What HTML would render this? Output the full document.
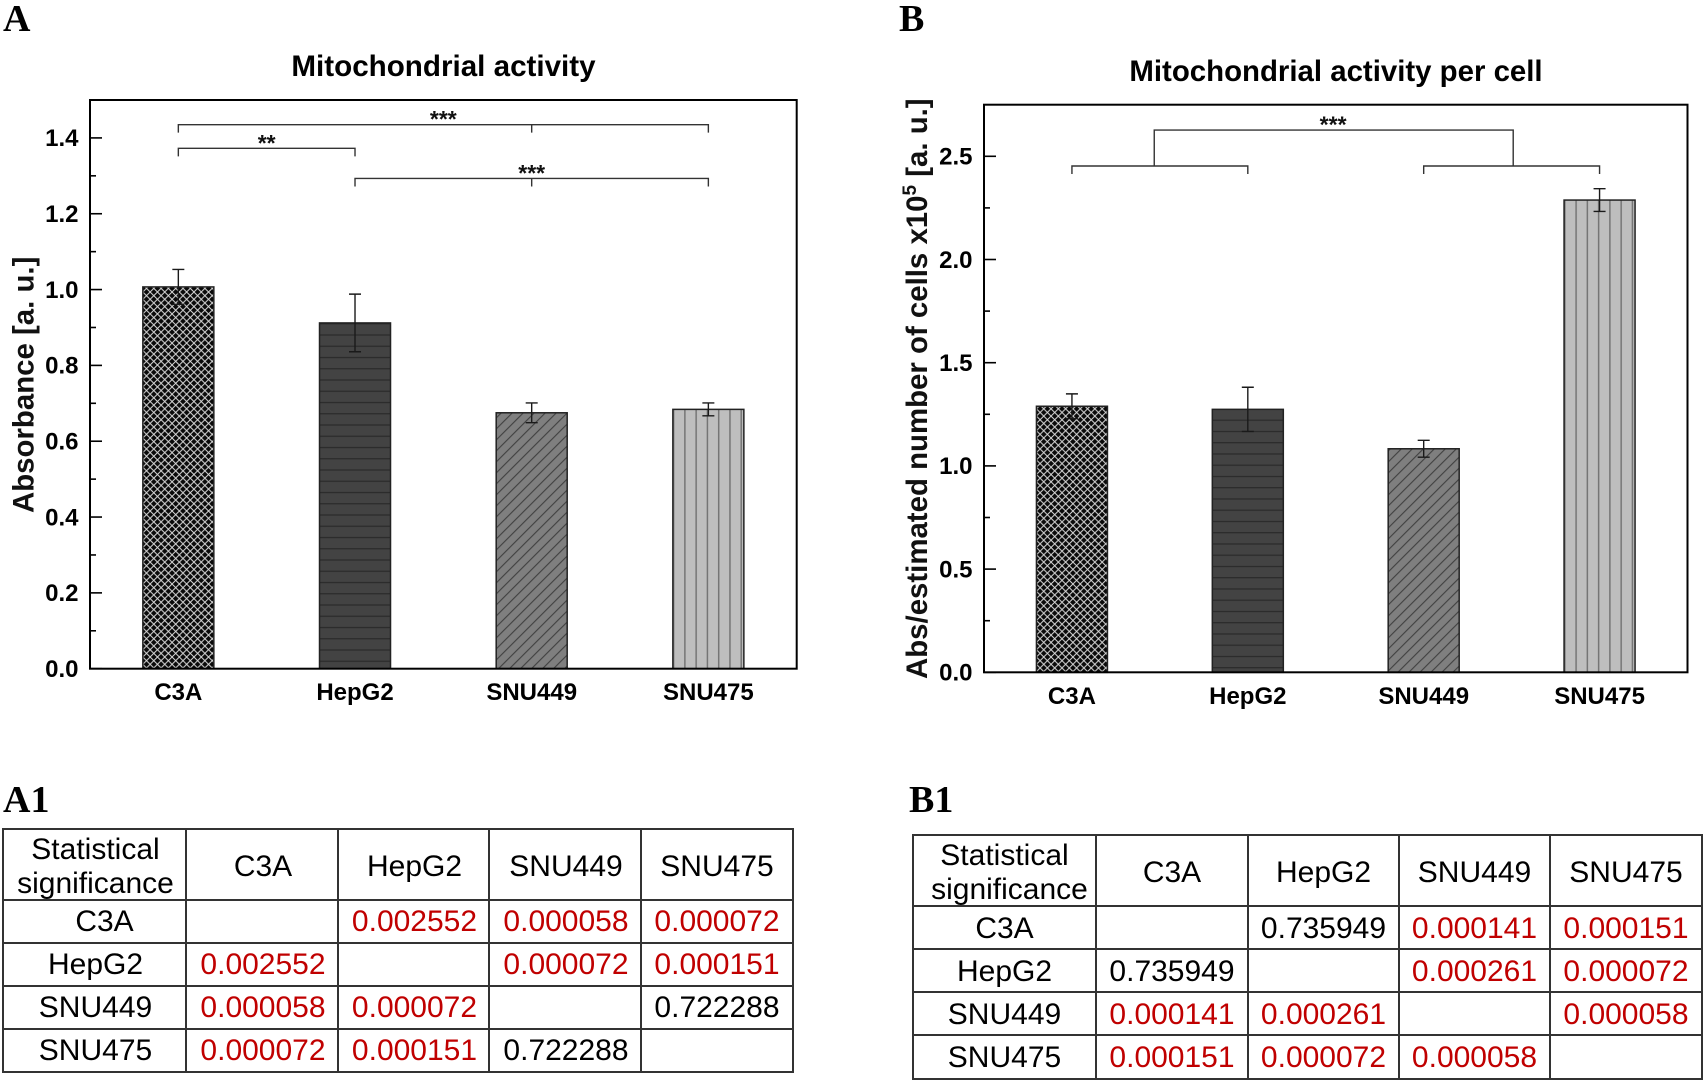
<!DOCTYPE html>
<html lang="en">
<head>
<meta charset="utf-8">
<title>Mitochondrial activity</title>
<style>
html,body{margin:0;padding:0;background:#fff;}
body{width:1705px;height:1085px;overflow:hidden;position:relative;font-family:"Liberation Sans",sans-serif;}
#figure{position:absolute;left:0;top:0;}
.letter{font-family:"Liberation Serif",serif;font-weight:bold;font-size:38px;fill:#000;}
.title{font-weight:bold;font-size:29.6px;fill:#000;text-anchor:middle;}
.ytitle{font-weight:bold;font-size:29.4px;fill:#111;}
.tick{font-weight:bold;font-size:24px;fill:#000;text-anchor:end;}
.cat{font-weight:bold;font-size:24px;fill:#000;text-anchor:middle;}
.stars{font-weight:bold;font-size:23px;fill:#111;text-anchor:middle;}
table.sig{position:absolute;border-collapse:collapse;table-layout:fixed;font-size:30px;line-height:34.3px;color:#000;}
table.sig td{border:2px solid #333;padding:0;text-align:center;vertical-align:middle;white-space:nowrap;}
table.sig td.p{color:#c00000;}
table.sig td.n{color:#000;}
table.sig td.corner{padding:0;}
.corner-text{position:relative;top:2.5px;}
#table-a td{padding-left:2px;padding-top:2px;}
#table-a td:last-child{padding-left:0;}
#table-a td.corner{padding-top:0;}
#table-a td.h{padding-top:6px;}
#table-b td{padding-top:4px;}
#table-b td.corner{padding-top:0;}
#table-b td.h{padding-top:5px;}
</style>
</head>
<body>
<svg id="figure" width="1705" height="1085" viewBox="0 0 1705 1085" xmlns="http://www.w3.org/2000/svg" font-family="'Liberation Sans',sans-serif">
  <defs id="hatches"></defs>
  <text class="letter" x="3" y="31">A</text>
  <text class="letter" x="899" y="31">B</text>
  <text class="letter" x="3" y="812">A1</text>
  <text class="letter" x="909" y="812">B1</text>

  <g id="chart-a">
    <text class="title" x="443.5" y="76">Mitochondrial activity</text>
    <text class="ytitle" x="33.6" y="513" transform="rotate(-90 33.6 513)">Absorbance [a. u.]</text>
  </g>
  <g id="chart-b">
    <text class="title" x="1336" y="81" style="font-size:29.4px">Mitochondrial activity per cell</text>
    <text class="ytitle" x="927" y="679" transform="rotate(-90 927 679)">Abs/estimated number of cells x10<tspan font-size="19" dy="-11">5</tspan><tspan dy="11"> [a. u.]</tspan></text>
  </g>
</svg>

<table id="table-a" class="sig" style="left:2px;top:828px;width:790px;">
  <colgroup><col style="width:183px"><col style="width:152px"><col style="width:151px"><col style="width:152px"><col style="width:152px"></colgroup>
  <tr style="height:69px"><td class="corner"><div class="corner-text">Statistical<br>significance</div></td><td class="h">C3A</td><td class="h">HepG2</td><td class="h">SNU449</td><td class="h">SNU475</td></tr>
  <tr style="height:43px"><td style="padding-left:20px">C3A</td><td></td><td class="p">0.002552</td><td class="p">0.000058</td><td class="p">0.000072</td></tr>
  <tr style="height:43px"><td>HepG2</td><td class="p">0.002552</td><td></td><td class="p">0.000072</td><td class="p">0.000151</td></tr>
  <tr style="height:43px"><td>SNU449</td><td class="p">0.000058</td><td class="p">0.000072</td><td></td><td class="n">0.722288</td></tr>
  <tr style="height:43px"><td>SNU475</td><td class="p">0.000072</td><td class="p">0.000151</td><td class="n">0.722288</td><td></td></tr>
</table>

<table id="table-b" class="sig" style="left:912px;top:834px;width:789px;">
  <colgroup><col style="width:183px"><col style="width:152px"><col style="width:151px"><col style="width:151px"><col style="width:152px"></colgroup>
  <tr style="height:70px"><td class="corner"><div class="corner-text">Statistical<br><span style="position:relative;left:5px">significance</span></div></td><td class="h">C3A</td><td class="h">HepG2</td><td class="h">SNU449</td><td class="h">SNU475</td></tr>
  <tr style="height:43px"><td>C3A</td><td></td><td class="n">0.735949</td><td class="p">0.000141</td><td class="p">0.000151</td></tr>
  <tr style="height:43px"><td>HepG2</td><td class="n">0.735949</td><td></td><td class="p">0.000261</td><td class="p">0.000072</td></tr>
  <tr style="height:43px"><td>SNU449</td><td class="p">0.000141</td><td class="p">0.000261</td><td></td><td class="p">0.000058</td></tr>
  <tr style="height:44px"><td>SNU475</td><td class="p">0.000151</td><td class="p">0.000072</td><td class="p">0.000058</td><td></td></tr>
</table>

<script>
var categories = ["C3A", "HepG2", "SNU449", "SNU475"];

var valuesA = [1.007, 0.912, 0.675, 0.684];
var errorsA = [0.046, 0.076, 0.026, 0.017];
var majorTicksA = [0.0, 0.2, 0.4, 0.6, 0.8, 1.0, 1.2, 1.4];
var minorTicksA = [0.1, 0.3, 0.5, 0.7, 0.9, 1.1, 1.3];
var tickLabelsA = ["0.0", "0.2", "0.4", "0.6", "0.8", "1.0", "1.2", "1.4"];

var valuesB = [1.289, 1.274, 1.083, 2.288];
var errorsB = [0.060, 0.107, 0.041, 0.055];
var majorTicksB = [0.0, 0.5, 1.0, 1.5, 2.0, 2.5];
var minorTicksB = [0.25, 0.75, 1.25, 1.75, 2.25];
var tickLabelsB = ["0.0", "0.5", "1.0", "1.5", "2.0", "2.5"];

var bracketFromA = [0, 0, 1];
var bracketToA = [3, 1, 3];
var bracketLevelA = [1.435, 1.3725, 1.293];
var bracketMidA = [2, null, 2];
var bracketStarPosA = [1.5, 0.5, 2];
var bracketStarsA = ["***", "**", "***"];

var bracketFromB = [0, 2];
var bracketToB = [1, 3];
var bracketLevelB = [2.453, 2.453];
var joinFromB = 0.468;
var joinToB = 2.509;
var joinLevelB = 2.627;
var joinStarPosB = 1.485;
var joinStarsB = "***";

var NS = "http://www.w3.org/2000/svg";
var defsEl = document.getElementById("hatches");

function make(tag, attrs, parent) {
  var el = document.createElementNS(NS, tag);
  for (var k in attrs) { el.setAttribute(k, attrs[k]); }
  parent.appendChild(el);
  return el;
}

function buildHatches(prefix, xScale, horizontalOffset) {
  var bw = 71;
  var p, bx;

  bx = xScale(0) - bw / 2;
  p = make("pattern", {id: prefix + "-cross", patternUnits: "userSpaceOnUse", width: 7.3, height: 7.3, patternTransform: "translate(" + bx + ",0)"}, defsEl);
  make("rect", {x: 0, y: 0, width: 7.3, height: 7.3, fill: "#0a0a0a"}, p);
  make("path", {d: "M0,0L7.3,7.3M7.3,0L0,7.3", stroke: "#d8d8d8", "stroke-width": 1, fill: "none"}, p);

  p = make("pattern", {id: prefix + "-horiz", patternUnits: "userSpaceOnUse", width: 20, height: 11.25, patternTransform: "translate(0," + horizontalOffset + ")"}, defsEl);
  make("rect", {x: 0, y: 0, width: 20, height: 11.25, fill: "#434343"}, p);
  make("line", {x1: 0, y1: 0.6, x2: 20, y2: 0.6, stroke: "#2a2a2a", "stroke-width": 1.2}, p);

  bx = xScale(2) - bw / 2;
  p = make("pattern", {id: prefix + "-diag", patternUnits: "userSpaceOnUse", width: 11, height: 11, patternTransform: "translate(" + bx + ",0)"}, defsEl);
  make("rect", {x: 0, y: 0, width: 11, height: 11, fill: "#7f7f7f"}, p);
  make("path", {d: "M-1,12L12,-1M-1,1L1,-1M10,12L12,10", stroke: "#3f3f3f", "stroke-width": 1.1, fill: "none"}, p);

  bx = xScale(3) - bw / 2;
  p = make("pattern", {id: prefix + "-vert", patternUnits: "userSpaceOnUse", width: 11.27, height: 20, patternTransform: "translate(" + bx + ",0)"}, defsEl);
  make("rect", {x: 0, y: 0, width: 11.27, height: 20, fill: "#bebebe"}, p);
  make("line", {x1: 0.75, y1: 0, x2: 0.75, y2: 20, stroke: "#757575", "stroke-width": 1.5}, p);
}

function drawChart(cfg) {
  var g = document.getElementById(cfg.id);
  var L = cfg.left, R = cfg.right, T = cfg.top, B = cfg.bottom;
  var step = (R - L) / categories.length;
  var xScale = function (i) { return L + step * (i + 0.5); };
  var yScale = function (v) { return B - (v / cfg.yMax) * (B - T); };
  var hatchNames = ["cross", "horiz", "diag", "vert"];
  var barW = 71;

  buildHatches(cfg.prefix, xScale, cfg.horizontalOffset);

  cfg.values.forEach(function (v, i) {
    var bar = make("rect", {x: xScale(i) - barW / 2, y: yScale(v), width: barW, height: B - yScale(v), fill: "url(#" + cfg.prefix + "-" + hatchNames[i] + ")", stroke: "#222", "stroke-width": 1.5}, g);
    
    
  });

  cfg.errors.forEach(function (e, i) {
    var cx = xScale(i), hi = yScale(cfg.values[i] + e), lo = yScale(cfg.values[i] - e);
    var eb = make("path", {d: "M" + cx + "," + hi + "V" + lo + "M" + (cx - 6) + "," + hi + "H" + (cx + 6) + "M" + (cx - 6) + "," + lo + "H" + (cx + 6), stroke: "#1a1a1a", "stroke-width": 1.4, fill: "none"}, g);
    
    
  });

  var frame = make("rect", {x: L, y: T, width: R - L, height: B - T, fill: "none", stroke: "#000", "stroke-width": 2}, g);
  
  

  cfg.majorTicks.forEach(function (v, i) {
    var y = yScale(v);
    var tk = make("line", {x1: L, y1: y, x2: L + 12, y2: y, stroke: "#000", "stroke-width": 1.6}, g);
    
    
    var lb = make("text", {x: L - 11.5, y: y + 8.3, "class": "tick"}, g);
    lb.textContent = cfg.tickLabels[i];
    
    
  });

  cfg.minorTicks.forEach(function (v) {
    var y = yScale(v);
    var tk = make("line", {x1: L, y1: y, x2: L + 6, y2: y, stroke: "#000", "stroke-width": 1.6}, g);
    
    
  });

  categories.forEach(function (c, i) {
    var lb = make("text", {x: xScale(i), y: B + 31.5, "class": "cat"}, g);
    lb.textContent = c;
    
    
  });

  return {x: xScale, y: yScale, g: g};
}

function drawBracket(s, from, to, level, mid) {
  var y = s.y(level), x1 = s.x(from), x2 = s.x(to);
  var d = "M" + x1 + "," + (y + 8) + "V" + y + "H" + x2 + "V" + (y + 8);
  if (mid !== null) { d += "M" + s.x(mid) + "," + y + "V" + (y + 8); }
  var br = make("path", {d: d, fill: "none", stroke: "#333", "stroke-width": 1.4}, s.g);
  
  
}

function drawStars(s, pos, level, text) {
  var st = make("text", {x: s.x(pos), y: s.y(level) + 2.5, "class": "stars"}, s.g);
  st.textContent = text;
  
  
}

var scaleA = drawChart({id: "chart-a", prefix: "a", left: 90, right: 796.7, top: 100, bottom: 668.7, yMax: 1.5, values: valuesA, errors: errorsA, majorTicks: majorTicksA, minorTicks: minorTicksA, tickLabels: tickLabelsA, horizontalOffset: 8.15});
var scaleB = drawChart({id: "chart-b", prefix: "b", left: 984, right: 1687.5, top: 104.7, bottom: 672.3, yMax: 2.75, values: valuesB, errors: errorsB, majorTicks: majorTicksB, minorTicks: minorTicksB, tickLabels: tickLabelsB, horizontalOffset: 3.35});

bracketFromA.forEach(function (f, i) {
  drawBracket(scaleA, f, bracketToA[i], bracketLevelA[i], bracketMidA[i]);
  drawStars(scaleA, bracketStarPosA[i], bracketLevelA[i], bracketStarsA[i]);
});

bracketFromB.forEach(function (f, i) {
  drawBracket(scaleB, f, bracketToB[i], bracketLevelB[i], null);
});
var joinY = scaleB.y(joinLevelB), joinBase = scaleB.y(bracketLevelB[0]);
var joinPath = make("path", {d: "M" + scaleB.x(joinFromB) + "," + joinBase + "V" + joinY + "H" + scaleB.x(joinToB) + "V" + joinBase, fill: "none", stroke: "#333", "stroke-width": 1.4}, scaleB.g);


drawStars(scaleB, joinStarPosB, joinLevelB, joinStarsB);
</script>
</body>
</html>
